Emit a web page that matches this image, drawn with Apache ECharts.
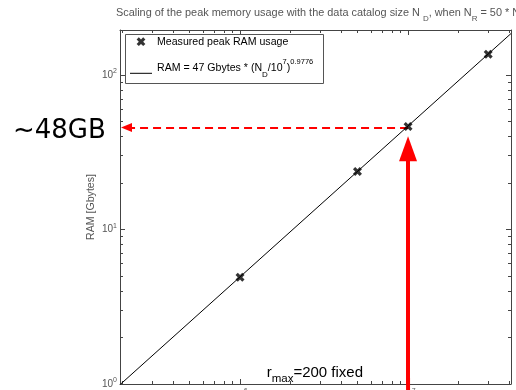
<!DOCTYPE html>
<html><head><meta charset="utf-8">
<script src="https://cdn.jsdelivr.net/npm/echarts@6/dist/echarts.min.js"></script>
<style>html,body{margin:0;padding:0;background:#fff}#c{width:516px;height:390px}</style>
</head><body><div id="c"></div><script>
// ---- data ----
const catalogSize = [1e6, 5e6, 1e7, 3e7];          // N_D
const peakRam = [4.9, 23.7, 46.3, 136];            // GB
const fitCatalog = [1.93e5, 4.1e7];                // fit line ends
const fitRam = [0.99, 185];
const xMajorTicks = [1e6, 1e7];
const xTickExps = ['6', '7'];
const xMinorTicks = [2e5,3e5,4e5,5e5,6e5,7e5,8e5,9e5,2e6,3e6,4e6,5e6,6e6,7e6,8e6,9e6,2e7,3e7,4e7];
const yMajorTicks = [1, 10, 100];
const yTickExps = ['0', '1', '2'];
const yMinorTicks = [2,3,4,5,6,7,8,9,20,30,40,50,60,70,80,90];
const xRange = [1.93e5, 4.1e7];
const yRange = [1, 195];
const markedCatalog = 1e7;      // r_max=200 arrow
const markedRam = 45.6;         // ~48GB arrow level
const scatterName = 'Measured peak RAM usage';
const fitName = 'RAM = 47 Gbytes * (N_D/10^7)^0.9776';

const FONT = 'Liberation Sans';
const AX = '#444';
const LBL = '#555';
const xPath = 'path://M2.5,0L5,2.5L7.5,0L10,2.5L7.5,5L10,7.5L7.5,10L5,7.5L2.5,10L0,7.5L2.5,5L0,2.5Z';
const xPathPadded = 'path://M-3,-3M13,13M2.5,0L5,2.5L7.5,0L10,2.5L7.5,5L10,7.5L7.5,10L5,7.5L2.5,10L0,7.5L2.5,5L0,2.5Z';
const linePathLow = 'path://M0,-7M22,7M0,4.9L22,4.9L22,5.9L0,5.9Z';

const tickRich = {
  b: {fontSize: 10, height: 14, lineHeight: 14, verticalAlign: 'middle', color: LBL, fontFamily: FONT},
  s: {fontSize: 7, height: 7, lineHeight: 7, verticalAlign: 'top', color: LBL, fontFamily: FONT}
};
function labelFor(ticks, exps) {
  return function (v) {
    const i = ticks.findIndex(t => Math.abs(t - v) / t < 1e-6);
    return i < 0 ? '' : '{b|10}{s|' + exps[i] + '}';
  };
}
function mkAxis(range, position, ticks, len, showLine, label, extra) {
  return Object.assign({
    type: 'log', logBase: 10, min: range[0], max: range[1], position: position,
    axisLine: {show: showLine, onZero: false, lineStyle: {color: AX, width: 1}},
    axisTick: {show: true, inside: true, length: len, customValues: ticks, lineStyle: {color: AX, width: 1}},
    axisLabel: label || {show: false},
    splitLine: {show: false}, minorTick: {show: false}, minorSplitLine: {show: false}
  }, extra || {});
}

const chart = echarts.init(document.getElementById('c'), null, {renderer: 'canvas'});
chart.setOption({
  animation: false,
  backgroundColor: '#fff',
  title: {
    left: 116, top: 3.5, padding: 0,
    text: '{t|Scaling of the peak memory usage with the data catalog size N }{u|D}{t|, when N}{u|R}{t| = 50 * N}{u|D}',
    textStyle: {
      fontFamily: FONT, fontSize: 10.9, fontWeight: 'normal', color: LBL,
      rich: {
        t: {fontFamily: FONT, fontSize: 10.9, color: LBL, height: 18, lineHeight: 18, verticalAlign: 'middle'},
        u: {fontFamily: FONT, fontSize: 8, color: LBL, height: 6, lineHeight: 6, verticalAlign: 'bottom'}
      }
    }
  },
  grid: {left: 120, right: 5, top: 30, bottom: 6, containLabel: false, outerBoundsMode: 'none'},
  xAxis: [
    mkAxis(xRange, 'bottom', xMajorTicks, 5, true,
      {show: true, customValues: xMajorTicks, margin: 4, formatter: labelFor(xMajorTicks, xTickExps), rich: tickRich}),
    mkAxis(xRange, 'bottom', xMinorTicks, 3, false),
    mkAxis(xRange, 'top', xMajorTicks, 5, true),
    mkAxis(xRange, 'top', xMinorTicks, 3, false)
  ],
  yAxis: [
    mkAxis(yRange, 'left', yMajorTicks, 5, true,
      {show: true, customValues: yMajorTicks, margin: 3, formatter: labelFor(yMajorTicks, yTickExps), rich: tickRich},
      {name: 'RAM [Gbytes]', nameLocation: 'middle', nameGap: 23, nameMoveOverlap: false,
       nameTextStyle: {fontFamily: FONT, fontSize: 10.6, color: LBL}}),
    mkAxis(yRange, 'left', yMinorTicks, 3, false),
    mkAxis(yRange, 'right', yMajorTicks, 5, true),
    mkAxis(yRange, 'right', yMinorTicks, 3, false)
  ],
  legend: {
    orient: 'vertical', left: 130, top: 34.7, padding: 0, itemGap: 9.2,
    itemWidth: 22, itemHeight: 14, symbolKeepAspect: true,
    data: [{name: scatterName, icon: xPathPadded}, {name: fitName, icon: linePathLow}],
    formatter: function (name) {
      if (name === fitName) {
        return '{t|RAM = 47 Gbytes * (N}{sub|D}{t|/10}{sup|7}{t|)}{sup|0.9776}';
      }
      return '{a|' + name + '}';
    },
    textStyle: {
      fontFamily: FONT, fontSize: 10.6, color: '#000',
      rich: {
        a: {fontFamily: FONT, fontSize: 10.6, color: '#000', height: 14, lineHeight: 14, verticalAlign: 'middle'},
        t: {fontFamily: FONT, fontSize: 10.6, color: '#000', height: 20, lineHeight: 20, verticalAlign: 'middle'},
        sub: {fontFamily: FONT, fontSize: 8, color: '#000', height: 7, lineHeight: 7, verticalAlign: 'bottom'},
        sup: {fontFamily: FONT, fontSize: 7.5, color: '#000', height: 8, lineHeight: 8, verticalAlign: 'top'}
      }
    }
  },
  series: [
    {
      name: fitName, type: 'line', xAxisIndex: 0, yAxisIndex: 0,
      data: fitCatalog.map((x, i) => [x, fitRam[i]]),
      symbol: 'none', lineStyle: {color: '#000', width: 1}, itemStyle: {color: '#000'}, z: 2
    },
    {
      name: scatterName, type: 'scatter', xAxisIndex: 0, yAxisIndex: 0, clip: false,
      data: catalogSize.map((x, i) => [x, peakRam[i]]),
      symbol: xPath, symbolSize: 9, itemStyle: {color: '#000'}, z: 4,
      markLine: {
        silent: true, animation: false, label: {show: false}, z: 3,
        data: [
          [
            {coord: [markedCatalog, markedRam], symbol: 'none',
             lineStyle: {color: '#ff0000', width: 2, type: [8, 5]}},
            {coord: [2.11e5, markedRam], symbol: 'triangle', symbolSize: [9, 11]}
          ],
          [
            {coord: [markedCatalog, 1], symbol: 'rect', symbolSize: [4, 12],
             lineStyle: {color: '#ff0000', width: 4, type: 'solid'}},
            {coord: [markedCatalog, 33.2], symbol: 'triangle', symbolSize: [18, 25]}
          ]
        ]
      }
    }
  ],
  graphic: [
    {type: 'rect', z: 1, silent: true,
     shape: {x: 125.5, y: 34.5, width: 198, height: 49},
     style: {fill: 'rgba(0,0,0,0)', stroke: '#555', lineWidth: 1}},
    {type: 'text', silent: true, x: 13, y: 131.5,
     style: {text: '~48GB', font: '26px "DejaVu Sans"', fill: '#000', verticalAlign: 'middle', align: 'left'}},
    {type: 'text', silent: true, x: 266.7, y: 362.7,
     style: {
       text: '{r|r}{m|max}{r|=200 fixed}', verticalAlign: 'top', align: 'left',
       rich: {
         r: {fontFamily: FONT, fontSize: 15, height: 20.6, lineHeight: 20.6, verticalAlign: 'middle', fill: '#000'},
         m: {fontFamily: FONT, fontSize: 11.5, height: 8, lineHeight: 8, verticalAlign: 'bottom', fill: '#000'}
       }
     }}
  ]
});
</script></body></html>
